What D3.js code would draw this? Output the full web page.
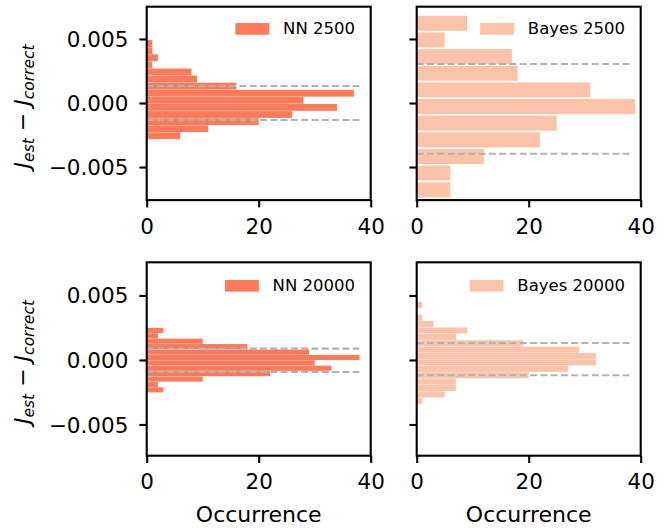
<!DOCTYPE html>
<html><head><meta charset="utf-8">
<script src="https://cdn.jsdelivr.net/npm/d3@7"></script>
<style>body{margin:0;background:#fff} text{font-family:"DejaVu Sans",sans-serif;fill:#000}</style>
</head><body><svg id="c" width="671" height="528"></svg>
<script>
// ---- data ----
const xTicks = [0, 20, 40];
const yTicks = [0.005, 0, -0.005];
const yTickLabels = ["0.005", "0.000", "\u22120.005"];
const xLabel = "Occurrence";
const labels = ["NN 2500", "Bayes 2500", "NN 20000", "Bayes 20000"];
// histogram counts, listed from the top bin downwards
const nn2500Counts = [1, 1, 2, 1, 8, 9, 16, 37, 28, 34, 26, 20, 11, 6];
const nn2500Top = 0.00492, nn2500Bin = 0.000554;
const bayes2500Counts = [9, 5, 17, 18, 31, 39, 25, 22, 12, 6, 6, 4];
const bayes2500Top = 0.006875, bayes2500Bin = 0.0013;
const nn20000Counts = [3, 2, 10, 18, 29, 38, 30, 33, 22, 10, 2, 3];
const nn20000Top = 0.0025, nn20000Bin = 0.000419;
const bayes20000Counts = [1, 0, 1, 3, 9, 7, 19, 29, 32, 32, 27, 20, 7, 7, 5, 1];
const bayes20000Top = 0.00452, bayes20000Bin = 0.000496;
// dashed reference lines
const nn2500Lines = [0.00133, -0.00133];
const bayes2500Lines = [0.00305, -0.00396];
const nn20000Lines = [0.000876, -0.00093];
const bayes20000Lines = [0.00132, -0.00119];
const lineXMax = 38;
const xDomain = [0, 40];
const yDomainTop = [-0.00758, 0.00752];
const yDomainBottom = [-0.00742, 0.00757];

// ---- layout / style ----
const colX = [146.7, 416.7], panelW = 224;
const rowY = [6.7, 262.3], panelH = 193.4;
const NNcol = "#fb7b5c", BAYEScol = "#fcc3ab";
const tickFont = 21.5, legFont = 16.5;

const panels = [
  {label: labels[0], counts: nn2500Counts, top: nn2500Top, bin: nn2500Bin, lines: nn2500Lines, color: NNcol, col: 0, row: 0, gap: 0.3},
  {label: labels[1], counts: bayes2500Counts, top: bayes2500Top, bin: bayes2500Bin, lines: bayes2500Lines, color: BAYEScol, col: 1, row: 0, gap: 1.6},
  {label: labels[2], counts: nn20000Counts, top: nn20000Top, bin: nn20000Bin, lines: nn20000Lines, color: NNcol, col: 0, row: 1, gap: 0.3},
  {label: labels[3], counts: bayes20000Counts, top: bayes20000Top, bin: bayes20000Bin, lines: bayes20000Lines, color: BAYEScol, col: 1, row: 1, gap: 0.4},
];

const svg = d3.select("#c");
const defs = svg.append("defs");

panels.forEach((p, i) => {
  const x0 = colX[p.col], y0 = rowY[p.row];
  const x = d3.scaleLinear().domain(xDomain).range([0, panelW]);
  const y = d3.scaleLinear().domain(p.row === 0 ? yDomainTop : yDomainBottom).range([panelH, 0]);
  const g = svg.append("g").attr("transform", `translate(${x0},${y0})`);
  defs.append("clipPath").attr("id", "clip" + i).append("rect").attr("width", panelW).attr("height", panelH - 0.9);

  const bins = p.counts.map((c, k) => ({c, hi: p.top - k * p.bin, lo: p.top - (k + 1) * p.bin}));
  g.append("g").attr("clip-path", `url(#clip${i})`).selectAll("rect").data(bins.filter(d => d.c > 0)).join("rect")
    .attr("x", x(0)).attr("width", d => x(d.c) - x(0))
    .attr("y", d => y(d.hi) + p.gap / 2)
    .attr("height", d => y(d.lo) - y(d.hi) - p.gap)
    .attr("fill", p.color);

  g.selectAll("line.ref").data(p.lines).join("line").attr("class", "ref")
    .attr("x1", x(0)).attr("x2", x(lineXMax)).attr("y1", d => y(d)).attr("y2", d => y(d))
    .attr("stroke", "#b2b2b2").attr("stroke-width", 2.1).attr("stroke-dasharray", "7,3.3");

  // axes
  const xa = g.append("g").attr("transform", `translate(0,${panelH})`)
    .call(d3.axisBottom(x).tickValues(xTicks).tickSize(7.3).tickPadding(5).tickSizeOuter(0).tickFormat(d3.format("d")));
  const ya = g.append("g")
    .call(d3.axisLeft(y).tickValues(yTicks).tickSize(7.3).tickPadding(11).tickSizeOuter(0)
      .tickFormat((d, k) => p.col === 0 ? yTickLabels[k] : ""));
  [xa, ya].forEach(a => {
    a.select(".domain").remove();
    a.selectAll("line").attr("stroke", "#000").attr("stroke-width", 2.1);
    a.selectAll("text").attr("font-size", tickFont).attr("font-family", "DejaVu Sans").attr("fill", "#000");
  });
  xa.selectAll("text").attr("dy", null).attr("y", 33.8).attr("dominant-baseline", "alphabetic");
  ya.selectAll("text").attr("dy", "0.35em");

  g.append("rect").attr("width", panelW).attr("height", panelH).attr("fill", "none")
    .attr("stroke", "#000").attr("stroke-width", 2.1);

  // legend
  const ly = p.row === 0 ? 22.2 : 23.5;
  const lt = g.append("text").attr("x", panelW - 15.7).attr("y", ly).attr("text-anchor", "end")
    .attr("dominant-baseline", "central").attr("font-size", legFont).text(p.label);
  const tw = lt.node().getComputedTextLength();
  g.append("rect").attr("x", panelW - 15.7 - tw - 13.7 - 34).attr("y", ly - 5.85)
    .attr("width", 34).attr("height", 11.7).attr("fill", p.color);

  // axis labels
  if (p.row === 1) {
    g.append("text").attr("x", panelW / 2).attr("y", 522 - y0).attr("text-anchor", "middle")
      .attr("font-size", 22).text(xLabel);
  }
  if (p.col === 0) {
    const t = svg.append("text").attr("transform", `translate(30,${y0 + panelH / 2 + 3}) rotate(-90)`)
      .attr("text-anchor", "middle").attr("font-size", 22);
    t.append("tspan").attr("font-style", "italic").text("J");
    t.append("tspan").attr("font-style", "italic").attr("font-size", 15.5).attr("dy", 4).text("est");
    t.append("tspan").attr("dy", -4).text(" \u2212 ");
    t.append("tspan").attr("font-style", "italic").text("J");
    t.append("tspan").attr("font-style", "italic").attr("font-size", 15.5).attr("dy", 4).text("correct");
  }
});
</script></body></html>
